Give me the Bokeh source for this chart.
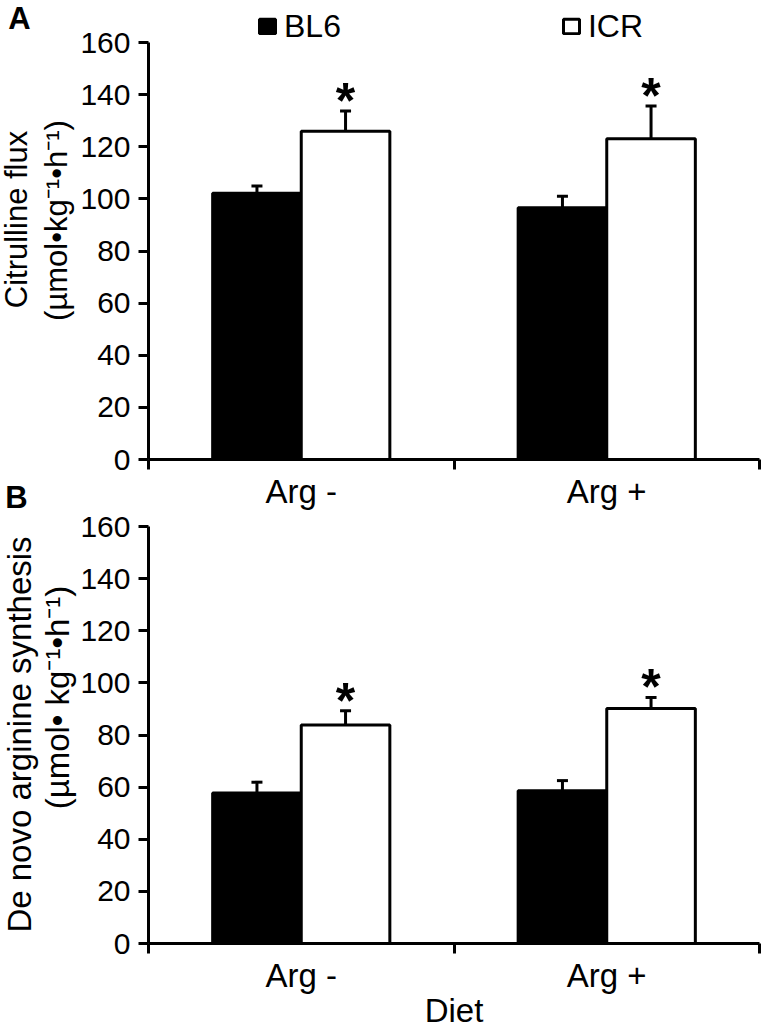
from math import pi
from bokeh.plotting import figure
from bokeh.models import (ColumnDataSource, FixedTicker, Label, Legend, LegendItem,
                          Whisker, TeeHead, Range1d, LinearAxis)
from bokeh.embed import file_html
from bokeh.resources import INLINE
from bokeh.core.properties import value

# ---------------- data ----------------
diets = ["Arg -", "Arg +"]
strains = ["BL6", "ICR"]
citrulline_bl6 = [102.2, 96.6]
citrulline_bl6_sem = [2.7, 4.4]
citrulline_icr = [125.9, 123.1]
citrulline_icr_sem = [7.8, 12.5]
denovo_bl6 = [57.7, 58.6]
denovo_bl6_sem = [4.2, 3.9]
denovo_icr = [83.8, 90.2]
denovo_icr_sem = [5.5, 4.2]
icr_significance = ["*", "*"]
y_ticks = [0, 20, 40, 60, 80, 100, 120, 140, 160]
y_max = 160
x_title = "Diet"
ytitle_A = ["Citrulline flux", "(µmol•kg⁻¹•h⁻¹)"]
ytitle_B = ["De novo arginine synthesis", "(µmol• kg⁻¹•h⁻¹)"]

# ---------------- style / layout (pixels) ----------------
FONT = "Liberation Sans"
W, H = 764, 1029
AX_LEFT, AX_RIGHT = 148, 759      # x pixel of the y axes / right end of the x axes
ZERO_A, ZERO_B = 459, 943         # pixel rows of value 0 in panels A and B
PX_PER_Y = 417 / y_max
BAR_W = 0.29
LW = 3
ncat = len(diets)
PX_PER_X = (AX_RIGHT - AX_LEFT) / ncat


def X(px):
    return (px - AX_LEFT) / PX_PER_X


def Y(py, zero=ZERO_A):
    return (zero - py) / PX_PER_Y


# one canvas, the plotting frame covers all of it; axes are pinned with fixed_location
p = figure(width=W, height=H, x_range=Range1d(X(0), X(W)),
           y_range=Range1d(Y(H), Y(0)), output_backend="svg", toolbar_location=None,
           min_border_left=0, min_border_right=0, min_border_top=0, min_border_bottom=0)
p.extra_y_ranges = {"B": Range1d(Y(H, ZERO_B), Y(0, ZERO_B))}
p.title.visible = False
p.outline_line_color = None
p.grid.visible = False


def style_axes(xa, ya):
    idx = list(range(ncat))
    xa.fixed_location = 0
    xa.bounds = (0, ncat)
    xa.ticker = FixedTicker(ticks=[i + 0.5 for i in idx], minor_ticks=list(range(ncat + 1)))
    xa.major_label_overrides = {i + 0.5: d for i, d in zip(idx, diets)}
    xa.major_tick_out = 0
    xa.major_tick_in = 0
    xa.minor_tick_out = 10
    xa.minor_tick_in = 0
    xa.minor_tick_line_width = LW
    xa.minor_tick_line_color = "black"
    xa.axis_line_width = LW
    xa.axis_line_color = "black"
    xa.major_label_standoff = 3
    xa.major_label_text_font = FONT
    xa.major_label_text_font_size = "33px"
    xa.major_label_text_color = "black"

    ya.fixed_location = 0
    ya.bounds = (0, y_max)
    ya.ticker = FixedTicker(ticks=y_ticks, minor_ticks=[])
    ya.major_tick_out = 10
    ya.major_tick_in = 0
    ya.major_tick_line_width = LW
    ya.major_tick_line_color = "black"
    ya.axis_line_width = LW
    ya.axis_line_color = "black"
    ya.major_label_standoff = 8
    ya.major_label_text_font = FONT
    ya.major_label_text_font_size = "30px"
    ya.major_label_text_color = "black"


def draw_panel(rname, bl6, bl6_err, icr, icr_err, ytitle, ytitle_pos, ytitle_size):
    idx = list(range(ncat))
    x_bl6 = [i + 0.5 - BAR_W / 2 for i in idx]
    x_icr = [i + 0.5 + BAR_W / 2 for i in idx]
    src_bl6 = ColumnDataSource(dict(x=x_bl6, top=bl6, up=[v + e for v, e in zip(bl6, bl6_err)]))
    src_icr = ColumnDataSource(dict(x=x_icr, top=icr, up=[v + e for v, e in zip(icr, icr_err)],
                                    star=icr_significance))
    for src in (src_bl6, src_icr):
        p.add_layout(Whisker(source=src, base="x", lower="top", upper="up", dimension="height",
                             y_range_name=rname, line_color="black", line_width=LW,
                             lower_head=None,
                             upper_head=TeeHead(size=11, line_width=3, line_color="black")))
    r_bl6 = p.vbar(x="x", top="top", bottom=0, width=BAR_W, source=src_bl6, y_range_name=rname,
                   fill_color="black", line_color="black", line_width=LW)
    r_icr = p.vbar(x="x", top="top", bottom=0, width=BAR_W, source=src_icr, y_range_name=rname,
                   fill_color="white", line_color="black", line_width=LW)
    p.text(x="x", y="up", text="star", source=src_icr, y_range_name=rname,
           text_font=value(FONT), text_font_size="50px", text_font_style="bold",
           text_align="center", text_baseline="middle", y_offset=-10, text_color="black")
    for txt, (px, py) in zip(ytitle, ytitle_pos):
        p.add_layout(Label(x=X(px), y=Y(py), text=txt, angle=pi / 2, text_align="center",
                           text_baseline="middle", text_font=FONT,
                           text_font_size=ytitle_size, text_color="black"))
    return r_bl6, r_icr


# panel A uses the default axes, panel B its own pair on the extra range
style_axes(p.xaxis[0], p.yaxis[0])
xB = LinearAxis(y_range_name="B")
yB = LinearAxis(y_range_name="B")
p.add_layout(xB, "below")
p.add_layout(yB, "left")
style_axes(xB, yB)

rA_bl6, rA_icr = draw_panel("default", citrulline_bl6, citrulline_bl6_sem, citrulline_icr,
                            citrulline_icr_sem, ytitle_A, [(16, 219), (56, 220)], "31px")
draw_panel("B", denovo_bl6, denovo_bl6_sem, denovo_icr, denovo_icr_sem,
           ytitle_B, [(19, 734), (57, 697)], "33px")

# legend across the top (location: screen px from the bottom-left of the frame)
LEG_H = 40
legend = Legend(items=[LegendItem(label=strains[0], renderers=[rA_bl6]),
                       LegendItem(label=strains[1], renderers=[rA_icr])],
                orientation="horizontal", location=(257, H - 26 - LEG_H // 2),
                border_line_color=None, background_fill_alpha=0, padding=0, margin=0,
                spacing=220, glyph_width=20, glyph_height=18, label_standoff=7,
                label_height=LEG_H, label_text_font=FONT, label_text_font_size="32px",
                label_text_color="black")
p.add_layout(legend)

# panel letters
for txt, px, py in (("A", 19, 18), ("B", 16, 497)):
    p.add_layout(Label(x=X(px), y=Y(py), text=txt, text_align="center",
                       text_baseline="middle", text_font=FONT, text_font_size="31px",
                       text_font_style="bold", text_color="black"))

# x-axis title of panel B
p.add_layout(Label(x=X((AX_LEFT + AX_RIGHT) / 2), y=Y(1010), text=x_title,
                   text_align="center", text_baseline="middle", text_font=FONT,
                   text_font_size="33px", text_color="black"))

open("out.html", "w").write(file_html(p, INLINE))
